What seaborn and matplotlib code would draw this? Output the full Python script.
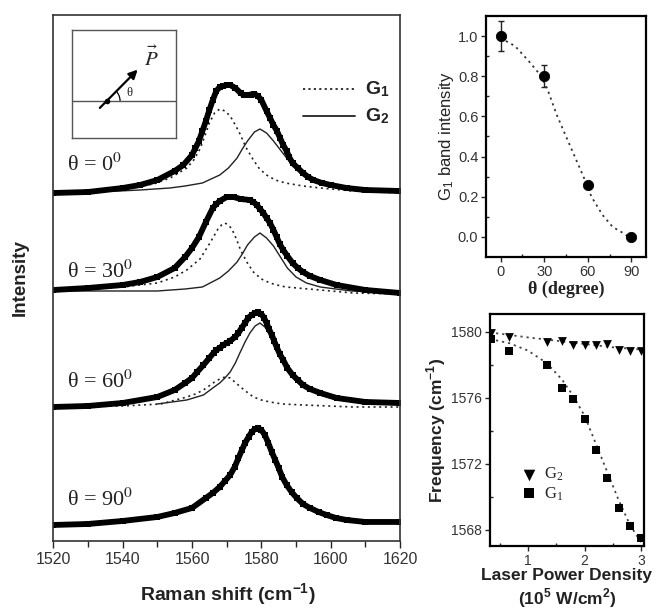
import numpy as np
import pandas as pd
import matplotlib
matplotlib.use("Agg")
import matplotlib.pyplot as plt
from matplotlib.patches import Arc
import seaborn as sns

# ---------------- data ----------------
# Spectra: Raman shift (cm^-1) and intensity above each baseline (arb. units)
x_t0 = [1520, 1530, 1540, 1545, 1550, 1555, 1557.5, 1560, 1561, 1562, 1563, 1564, 1565, 1566,
        1567, 1568, 1569, 1570, 1571, 1572.5, 1574, 1575, 1576, 1577, 1578, 1579, 1580, 1581.5,
        1582.5, 1583.5, 1584.5, 1585.4, 1586.3, 1587.3, 1588, 1589, 1590.5, 1592, 1593.5, 1595,
        1597.5, 1600, 1604.6, 1610, 1620]
y_t0 = [0, 1, 5, 8, 13, 22, 28, 38, 45, 52, 62, 72, 83, 93,
        102, 106, 107, 108, 108, 105, 100, 98, 98, 98.5, 99, 97, 93, 82,
        75, 68, 62, 55, 48, 42, 36, 30, 25, 20, 16, 13,
        10, 8, 5, 3, 2]
x_t30 = [1520, 1530, 1540, 1545, 1550, 1555, 1558, 1560, 1562, 1564, 1566, 1567, 1568, 1570,
         1572, 1574, 1576.7, 1577.7, 1578.7, 1579.6, 1580.6, 1581.5, 1582.5, 1583.5, 1584.4,
         1585.3, 1586.3, 1587.5, 1589, 1590.5, 1592, 1594, 1597, 1601.7, 1610, 1620]
y_t30 = [1, 3, 6, 9, 14, 23, 34, 43, 54, 69, 83, 87, 90, 94,
         94, 92, 91, 89, 86, 82, 78, 73, 68, 61, 54,
         47, 41, 35, 28, 23, 19, 15, 11, 6, 1, -2]
x_t60 = [1520, 1530, 1540, 1550, 1555, 1558, 1560, 1561.5, 1563.3, 1565, 1566.2, 1567, 1568,
         1569, 1570, 1571, 1572.4, 1573.4, 1574.3, 1575.3, 1576.2, 1577.2, 1578.2, 1579, 1580,
         1580.8, 1581.5, 1582.2, 1583, 1583.7, 1584.4, 1585.3, 1586.3, 1587.5, 1589, 1590.5,
         1592, 1594, 1597, 1601.7, 1610, 1620]
y_t60 = [0, 1, 4, 10, 17, 24, 29, 35, 42, 49, 54, 57, 59,
         62, 64, 66, 70, 74, 79, 84, 89, 92, 94, 94.5, 93,
         89, 84, 78, 72, 66, 60, 53, 47, 39, 32, 27,
         22, 18, 14, 9, 5, 4]
x_t90 = [1520, 1530, 1540, 1550, 1555, 1560, 1564, 1566, 1568, 1569.5, 1571, 1572.3, 1573.4,
         1574.4, 1575.3, 1576.3, 1577.2, 1578.2, 1579.1, 1580, 1581, 1582, 1583, 1584, 1585,
         1586, 1587.3, 1588.7, 1590.2, 1592, 1594, 1596.5, 1598.8, 1601.5, 1604.6, 1610, 1620]
y_t90 = [0, 1, 4, 8, 12, 17, 27, 32, 38, 44, 50, 58, 67,
         75, 82, 88, 93, 96, 97, 95, 90, 82, 73, 65, 57,
         48, 40, 33, 27, 21, 17, 13, 10, 7, 5, 3, 3]

# Fitted components G1 (dotted) and G2 (solid)
g1x_t0 = [1520, 1530, 1539, 1549, 1553.7, 1558.5, 1560.5, 1562.3, 1563.7, 1565, 1566.5, 1568,
          1569.5, 1571, 1572.5, 1574, 1575.5, 1577.7, 1579.5, 1581.5, 1584, 1587, 1592, 1597,
          1606.5, 1620]
g1y_t0 = [1, 2, 4, 9, 15, 25, 33, 44, 57, 70, 80, 84,
          82, 77, 68, 58, 46, 33, 24, 18, 13, 10, 7, 5,
          2, 0]
g2x_t0 = [1520, 1539, 1545, 1553.6, 1558, 1563, 1568, 1570.5, 1573, 1574.5, 1576, 1578, 1579.6,
          1581.5, 1583.5, 1585.5, 1587.3, 1589.5, 1592, 1594.5, 1597, 1601, 1606.5, 1620]
g2y_t0 = [1, 2, 3, 5, 7, 10, 18, 25, 35, 44, 52, 61, 64,
          60, 52, 43, 35, 27, 20, 15, 12, 8, 5, 3]

g1x_t30 = [1520, 1540, 1550, 1555, 1558.5, 1562.3, 1565, 1567.5, 1568.5, 1569.5, 1570.5, 1571.5,
           1572.8, 1574, 1575.8, 1577.7, 1580, 1582.5, 1584.5, 1587, 1597, 1606.5, 1620]
g1y_t30 = [1, 4, 8, 14, 21, 32, 47, 62, 66, 68, 66, 62,
           52, 41, 29, 19, 12, 8, 6, 4, 1, -2, -3]
g2x_t30 = [1520, 1550, 1558, 1563, 1568, 1570.5, 1573, 1574.5, 1576, 1578, 1579.6, 1581.5,
           1583.5, 1585.5, 1587.5, 1590, 1593, 1597, 1606, 1620]
g2y_t30 = [0, 0, 2, 4, 13, 20, 29, 37, 46, 54, 58, 53,
           45, 34, 23, 14, 8, 4, 0, -2]

g1x_t60 = [1520, 1540, 1551, 1558.5, 1561, 1563.3, 1566.5, 1568, 1569.5, 1571, 1572, 1573, 1574,
           1575.8, 1577.7, 1580, 1582.5, 1586, 1592, 1606.5, 1620]
g1y_t60 = [0, 1, 3, 10, 13, 17, 25, 28, 30, 29, 26, 23, 20,
           15, 10, 7, 5, 3, 2, 0, 0]
g2x_t60 = [1550, 1558.5, 1563.3, 1566, 1568, 1569.5, 1571, 1572.5, 1573.8, 1575.3, 1576.7, 1578.2,
           1579.6, 1581, 1582.5, 1584, 1585.5, 1586.7, 1588, 1590, 1592, 1594.5, 1597, 1602, 1610,
           1620]
g2y_t60 = [3, 7, 12, 19, 24, 29, 35, 44, 54, 65, 74, 81,
           84, 80, 72, 61, 50, 41, 34, 26, 20, 16, 12, 7, 4,
           2]

spectrum_labels = ["0", "30", "60", "90"]

# G1 band intensity vs polarization angle
theta_deg = [0, 30, 60, 90]
g1_intensity = [1.0, 0.8, 0.26, 0.0]
g1_err = [0.073, 0.055, 0.0, 0.0]
fit_theta = [0, 10, 20, 28, 33, 38.5, 45, 51, 57, 62.5, 70, 77, 84, 88]
fit_intensity = [0.99, 0.95, 0.87, 0.80, 0.72, 0.61, 0.50, 0.40, 0.30, 0.20, 0.11, 0.05, 0.02, 0.0]

# Frequency vs laser power density
power = [0.35, 0.67, 1.33, 1.6, 1.8, 2.0, 2.2, 2.4, 2.6, 2.8, 3.0]
freq_g2 = [1579.9, 1579.7, 1579.4, 1579.44, 1579.2, 1579.2, 1579.2, 1579.23, 1578.9, 1578.8, 1578.8]
freq_g1 = [1579.55, 1578.85, 1578.0, 1576.6, 1575.9, 1574.7, 1572.8, 1571.1, 1569.3, 1568.2, 1567.5]
fitg2_x = [0.33, 1.0, 1.5, 2.0, 2.5, 3.05]
fitg2_y = [1579.95, 1579.65, 1579.45, 1579.25, 1579.05, 1578.9]
fitg1_x = [0.33, 0.67, 1.0, 1.33, 1.6, 1.8, 2.0, 2.2, 2.4, 2.6, 2.8, 3.0]
fitg1_y = [1579.55, 1579.3, 1578.85, 1578.1, 1577.1, 1576.1, 1574.9, 1573.2, 1571.5, 1569.8, 1568.3, 1567.2]

# ---------------- style ----------------
sns.set_theme(style="ticks")
plt.rcParams["font.family"] = ["Liberation Sans", "DejaVu Sans"]
plt.rcParams["mathtext.fontset"] = "stix"
plt.rcParams["axes.linewidth"] = 1.2

fig = plt.figure(figsize=(6.58, 6.13), dpi=100)
ax = fig.add_axes([0.081, 0.1175, 0.527, 0.858])
ax_t = fig.add_axes([0.7386, 0.5808, 0.2432, 0.3932])
ax_b = fig.add_axes([0.7447, 0.1093, 0.234, 0.3785])

# ---------------- main spectra ----------------
offsets = [348, 250, 134, 16]
spectra = [(x_t0, y_t0), (x_t30, y_t30), (x_t60, y_t60), (x_t90, y_t90)]
fits = [((g1x_t0, g1y_t0), (g2x_t0, g2y_t0)),
        ((g1x_t30, g1y_t30), (g2x_t30, g2y_t30)),
        ((g1x_t60, g1y_t60), (g2x_t60, g2y_t60)),
        None]
label_y = [376, 269, 159, 41]

for i, (sx, sy) in enumerate(spectra):
    off = offsets[i]
    if fits[i] is not None:
        (g1x, g1y), (g2x, g2y) = fits[i]
        sns.lineplot(x=g1x, y=np.array(g1y) + off, ax=ax, color="#222222", lw=1.2,
                     linestyle=(0, (1.2, 2.2)), sort=False, estimator=None)
        sns.lineplot(x=g2x, y=np.array(g2y) + off, ax=ax, color="#222222", lw=1.0,
                     sort=False, estimator=None)
    sns.lineplot(x=sx, y=np.array(sy) + off, ax=ax, color="black", lw=4.2,
                 marker="s", markersize=3.8, markeredgewidth=0, sort=False, estimator=None)
    ax.text(1524, label_y[i], "θ = " + spectrum_labels[i] + r"$^{0}$",
            family=["Liberation Serif", "DejaVu Serif"], fontsize=16, va="center", ha="left",
            color="#222222")

ax.set_xlim(1520, 1620)
ax.set_ylim(0, 526)
ax.set_xticks([1520, 1540, 1560, 1580, 1600, 1620])
ax.set_xticks(np.arange(1530, 1620, 20), minor=True)
ax.set_yticks([])
ax.tick_params(axis="x", which="major", direction="out", length=5, width=1, labelsize=11.5,
               labelcolor="#333333", pad=3)
ax.tick_params(axis="x", which="minor", direction="out", length=4, width=1)
ax.set_xlabel("Raman shift (cm$^{\\mathregular{-1}}$)", fontsize=14, fontweight="bold",
              color="#222222")
ax.xaxis.set_label_coords(0.504, -0.078)
ax.set_ylabel("Intensity", fontsize=13.5, fontweight="bold", color="#222222")
ax.yaxis.set_label_coords(-0.07, 0.5)
for s in ax.spines.values():
    s.set_color("#333333")
    s.set_linewidth(1.2)

# legend for the fit components
ax.plot([0.72, 0.87], [0.859, 0.859], transform=ax.transAxes, color="#222222", lw=1.3,
        linestyle=(0, (1.2, 1.8)))
ax.plot([0.72, 0.87], [0.808, 0.808], transform=ax.transAxes, color="#222222", lw=1.3)
ax.text(0.9, 0.859, "G$_\\mathregular{1}$", transform=ax.transAxes, fontsize=14,
        fontweight="bold", va="center", ha="left", color="#222222")
ax.text(0.9, 0.808, "G$_\\mathregular{2}$", transform=ax.transAxes, fontsize=14,
        fontweight="bold", va="center", ha="left", color="#222222")

# inset sketch
ins = ax.inset_axes([0.055, 0.767, 0.299, 0.205])
ins.set_xlim(0, 1)
ins.set_ylim(0, 1)
ins.set_xticks([])
ins.set_yticks([])
for s in ins.spines.values():
    s.set_color("#555555")
    s.set_linewidth(1.0)
ins.axhline(0.339, color="#555555", lw=1.0)
ins.annotate("", xy=(0.63, 0.63), xytext=(0.265, 0.275),
             arrowprops=dict(arrowstyle="-|>", lw=1.6, color="black", mutation_scale=13,
                             shrinkA=0, shrinkB=0))
ins.plot([0.33], [0.339], "o", color="black", ms=3)
ins.add_patch(Arc((0.33, 0.339), 0.26, 0.26, theta1=0, theta2=45, color="black", lw=0.9))
ins.text(0.52, 0.41, "θ", family=["Liberation Serif", "DejaVu Serif"], fontsize=9,
         va="center", ha="left", color="#222222")
ins.text(0.76, 0.74, r"$\vec{P}$", fontsize=15, va="center", ha="center")

# ---------------- top right: G1 band intensity ----------------
ax_t.errorbar(theta_deg, g1_intensity, yerr=g1_err, fmt="none", ecolor="#222222",
              elinewidth=1.0, capsize=2.5, capthick=1.0)
sns.lineplot(x=fit_theta, y=fit_intensity, ax=ax_t, color="#333333", lw=1.3,
             linestyle=(0, (1.2, 2.2)), sort=False, estimator=None)
sns.scatterplot(x=theta_deg, y=g1_intensity, ax=ax_t, color="black", s=55, marker="o",
                edgecolor="black", zorder=5)
ax_t.set_xlim(-10, 100)
ax_t.set_ylim(-0.1, 1.1)
ax_t.set_xticks([0, 30, 60, 90])
ax_t.set_xticks([15, 45, 75], minor=True)
ax_t.set_yticks([0.0, 0.2, 0.4, 0.6, 0.8, 1.0])
ax_t.set_yticks([0.1, 0.3, 0.5, 0.7, 0.9], minor=True)
ax_t.yaxis.set_major_formatter(matplotlib.ticker.FormatStrFormatter("%.1f"))
ax_t.tick_params(which="major", direction="out", length=3.5, width=1, labelsize=10.5,
                 labelcolor="#333333", pad=2)
ax_t.tick_params(which="minor", direction="in", length=2.5, width=1)
ax_t.set_xlabel("θ (degree)", family=["Liberation Serif", "DejaVu Serif"], fontsize=13,
                fontweight="bold", color="#222222")
ax_t.xaxis.set_label_coords(0.5, -0.1)
ax_t.set_ylabel("G$_\\mathregular{1}$ band intensity", fontsize=12, color="#222222")
ax_t.yaxis.set_label_coords(-0.19, 0.5)
for s in ax_t.spines.values():
    s.set_color("black")
    s.set_linewidth(1.6)

# ---------------- bottom right: frequency vs power ----------------
sns.lineplot(x=fitg2_x, y=fitg2_y, ax=ax_b, color="#444444", lw=1.3,
             linestyle=(0, (1.2, 2.2)), sort=False, estimator=None)
sns.lineplot(x=fitg1_x, y=fitg1_y, ax=ax_b, color="#444444", lw=1.3,
             linestyle=(0, (1.2, 2.2)), sort=False, estimator=None)
sns.scatterplot(x=power, y=freq_g2, ax=ax_b, color="black", marker="v", s=40,
                edgecolor="black", linewidth=0, zorder=5)
sns.scatterplot(x=power, y=freq_g1, ax=ax_b, color="black", marker="s", s=30,
                edgecolor="black", linewidth=0, zorder=5)
ax_b.set_xlim(0.33, 3.05)
ax_b.set_ylim(1567, 1581.07)
ax_b.set_xticks([1, 2, 3])
ax_b.set_xticks([0.5, 1.5, 2.5], minor=True)
ax_b.set_yticks([1568, 1572, 1576, 1580])
ax_b.set_yticks([1570, 1574, 1578], minor=True)
ax_b.tick_params(which="major", direction="out", length=3.5, width=1, labelsize=10,
                 labelcolor="#333333", pad=2)
ax_b.tick_params(which="minor", direction="in", length=2.5, width=1)
ax_b.set_xlabel("Laser Power Density\n(10$^\\mathregular{5}$ W/cm$^\\mathregular{2}$)",
                fontsize=12.5, fontweight="bold", color="#222222", linespacing=1.25)
ax_b.xaxis.set_label_coords(0.5, -0.095)
ax_b.set_ylabel("Frequency (cm$^{\\mathregular{-1}}$)", fontsize=12.5, fontweight="bold",
                color="#222222")
ax_b.yaxis.set_label_coords(-0.27, 0.5)
for s in ax_b.spines.values():
    s.set_color("black")
    s.set_linewidth(1.6)

# in-panel legend
ax_b.scatter([1.02], [1571.3], marker="v", s=70, color="black", linewidth=0)
ax_b.scatter([1.02], [1570.2], marker="s", s=55, color="black", linewidth=0)
ax_b.text(1.28, 1571.35, "G$_\\mathregular{2}$", family=["Liberation Serif", "DejaVu Serif"],
          fontsize=12, va="center", ha="left")
ax_b.text(1.28, 1570.15, "G$_\\mathregular{1}$", family=["Liberation Serif", "DejaVu Serif"],
          fontsize=12, va="center", ha="left")

fig.savefig("out.png", dpi=100)
